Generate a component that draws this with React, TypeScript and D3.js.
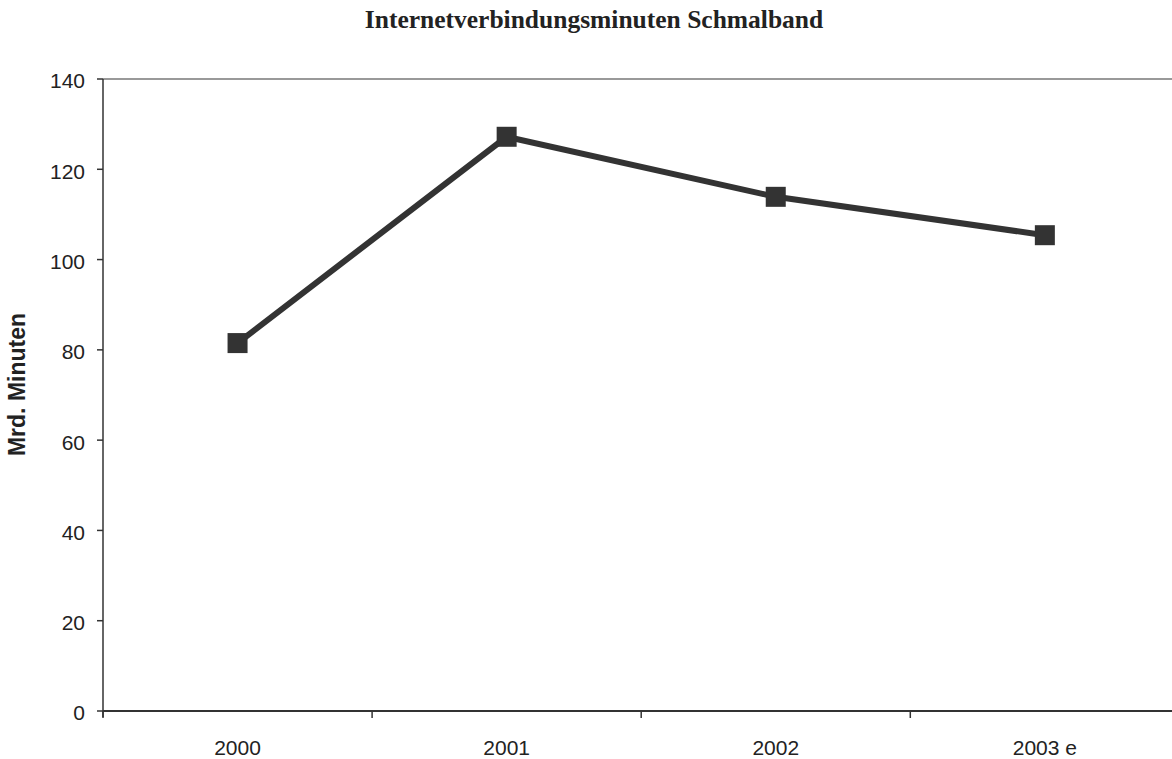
import React from "react";
import * as d3 from "d3";

const categories = ["2000", "2001", "2002", "2003 e"];
const values = [81.5, 127.2, 113.9, 105.4];
const yTicks = [0, 20, 40, 60, 80, 100, 120, 140];
const title = "Internetverbindungsminuten Schmalband";
const yLabel = "Mrd. Minuten";

const W = 1172;
const H = 759;
const left = 103;
const top = 79;
const bottom = 711;
const bandWidth = 269.1;
const right = left + bandWidth * categories.length;

export default function App() {
  const x = d3.scaleBand<string>().domain(categories).range([left, right]);
  const y = d3.scaleLinear().domain([0, 140]).range([bottom, top]);
  const line = d3
    .line<number>()
    .x((_, i) => (x(categories[i]) as number) + x.bandwidth() / 2)
    .y((d) => y(d));
  const font = "Arial, 'Liberation Sans', sans-serif";
  const ticksX = categories.map((_, i) => left + i * x.bandwidth()).concat([right]);

  return (
    <svg
      width={W}
      height={H}
      style={{ position: "absolute", left: 0, top: 0, background: "#fff" }}
    >
      <text
        x={594}
        y={28}
        textAnchor="middle"
        fontFamily="'Times New Roman', 'Liberation Serif', serif"
        fontWeight="bold"
        fontSize={25.5}
        fill="#222"
      >
        {title}
      </text>
      {/* plot frame */}
      <line x1={left} x2={right} y1={top} y2={top} stroke="#777" strokeWidth={1.5} />
      <line x1={right} x2={right} y1={top} y2={bottom} stroke="#777" strokeWidth={1.5} />
      <line x1={left} x2={right} y1={bottom} y2={bottom} stroke="#333" strokeWidth={2} />
      <line x1={left} x2={left} y1={top} y2={bottom + 6} stroke="#333" strokeWidth={1.5} />
      {yTicks.map((t) => (
        <g key={t}>
          <line x1={left - 6} x2={left} y1={y(t)} y2={y(t)} stroke="#333" strokeWidth={1.5} />
          <text
            x={left - 18}
            y={y(t)}
            dy="0.45em"
            textAnchor="end"
            fontFamily={font}
            fontSize={21}
            fill="#222"
          >
            {t}
          </text>
        </g>
      ))}
      {ticksX.map((tx, i) => (
        <line key={i} x1={tx} x2={tx} y1={bottom} y2={bottom + 7} stroke="#333" strokeWidth={1.5} />
      ))}
      {categories.map((c) => (
        <text
          key={c}
          x={(x(c) as number) + x.bandwidth() / 2}
          y={755}
          textAnchor="middle"
          fontFamily={font}
          fontSize={21}
          fill="#222"
        >
          {c}
        </text>
      ))}
      <text
        transform={`translate(25,384.5) rotate(-90)`}
        textAnchor="middle"
        fontFamily={font}
        fontWeight="bold"
        fontSize={23}
        fill="#222"
      >
        {yLabel}
      </text>
      <path d={line(values) ?? ""} fill="none" stroke="#333" strokeWidth={6} strokeLinejoin="miter" />
      {values.map((v, i) => {
        const cx = (x(categories[i]) as number) + x.bandwidth() / 2;
        return <rect key={i} x={cx - 10} y={y(v) - 10} width={20} height={20} fill="#333" />;
      })}
    </svg>
  );
}
